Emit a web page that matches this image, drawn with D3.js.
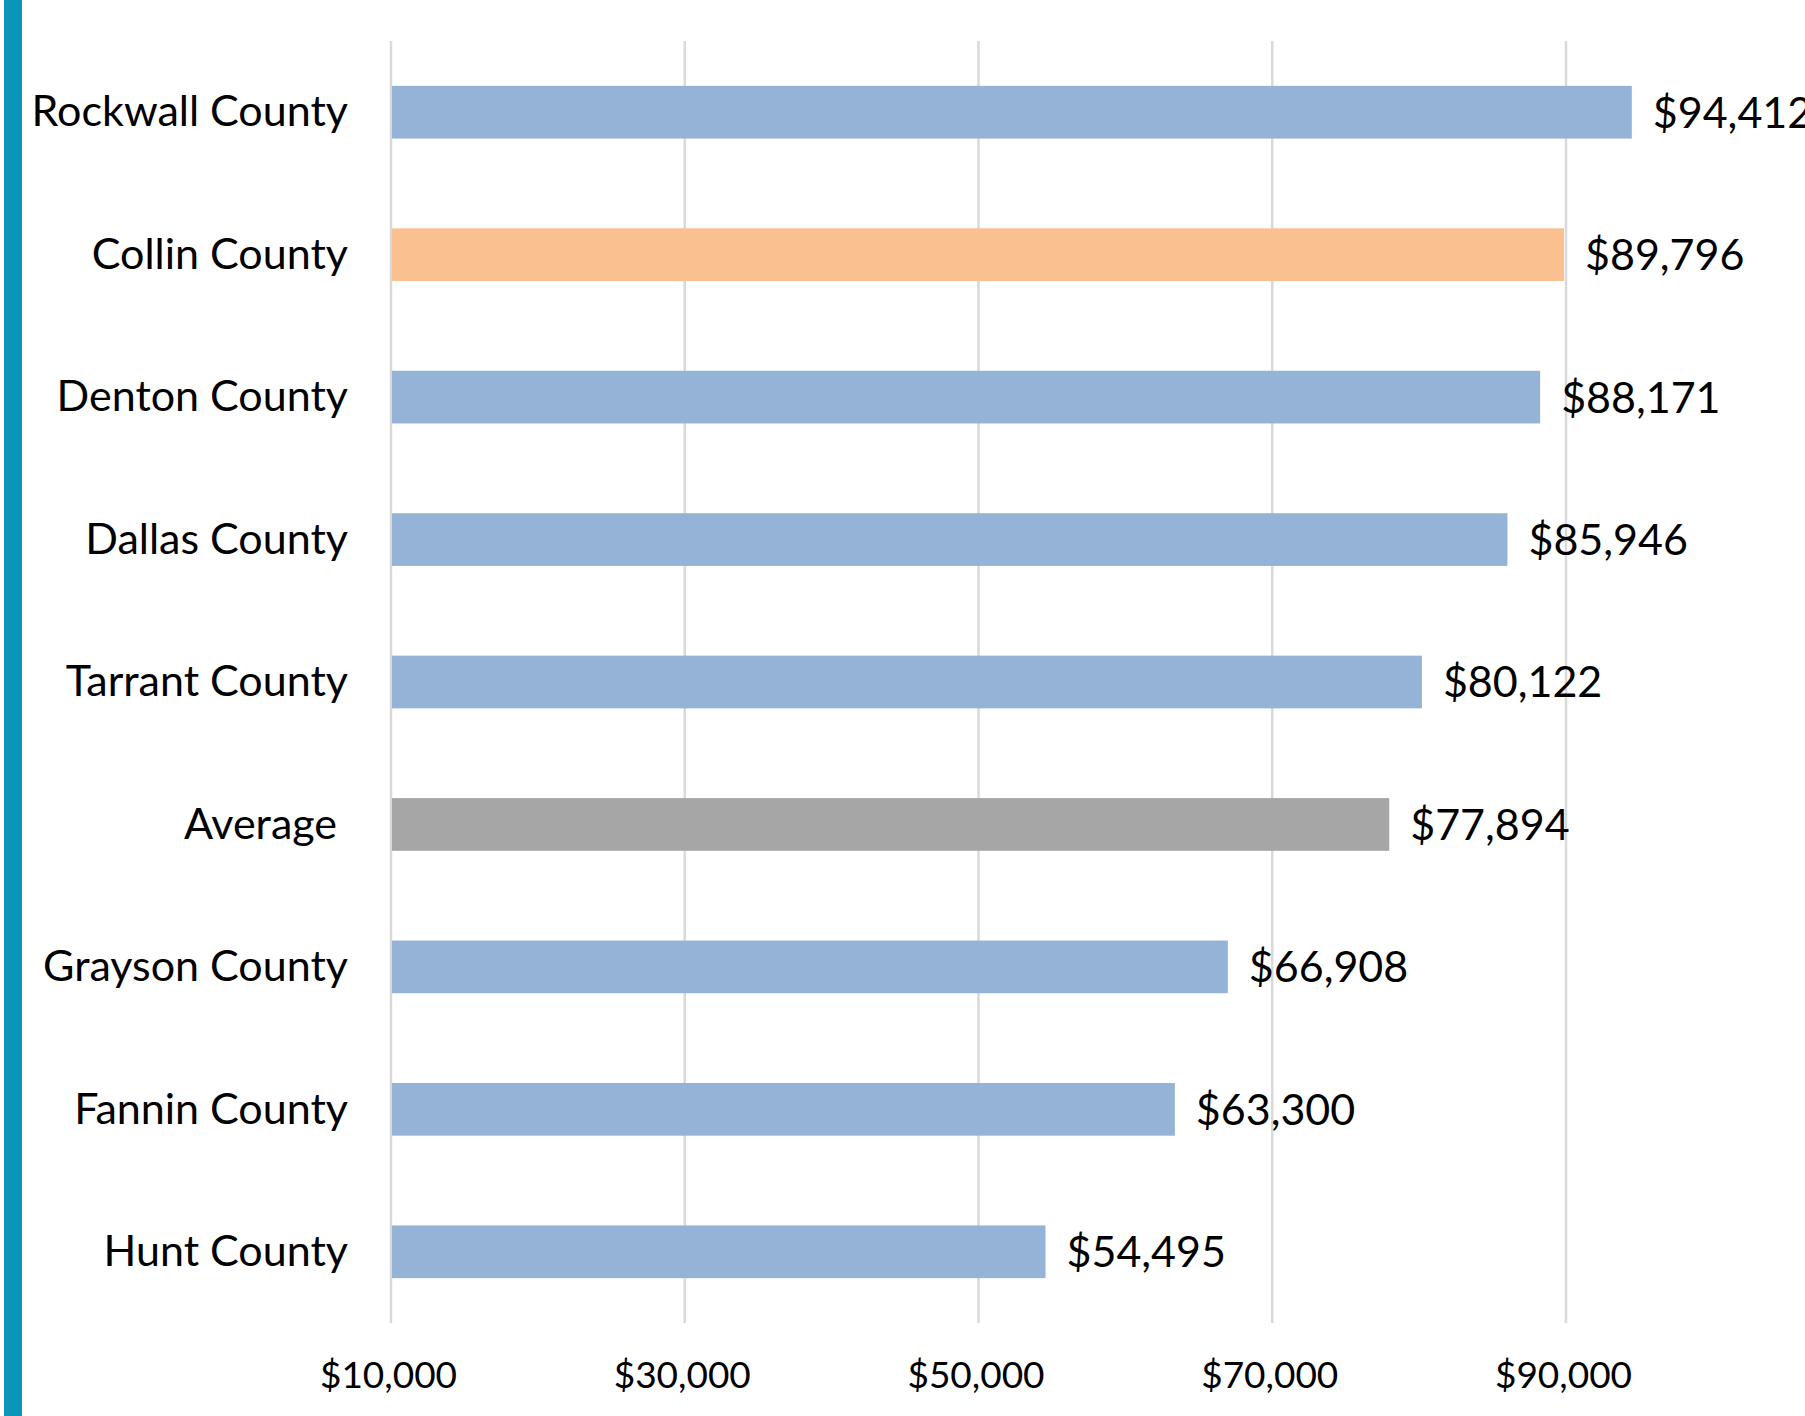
<!DOCTYPE html>
<html>
<head>
<meta charset="utf-8">
<script src="https://cdn.jsdelivr.net/npm/d3@7/dist/d3.min.js"></script>
<style>
  html, body { margin: 0; padding: 0; background: #fff; }
  svg { display: block; }
  text { font-family: Lato, "Open Sans", sans-serif; fill: #000; }
</style>
</head>
<body>
<svg id="chart" width="1805" height="1416"></svg>
<script>
// Median household income by county
const categories = ["Rockwall County", "Collin County", "Denton County", "Dallas County",
  "Tarrant County", "Average ", "Grayson County", "Fannin County", "Hunt County"];
const incomes = [94412, 89796, 88171, 85946, 80122, 77894, 66908, 63300, 54495];
const tickValues = [10000, 30000, 50000, 70000, 90000];
const barKinds = ["county", "highlight", "county", "county", "county", "average", "county", "county", "county"];

const kindColor = { county: "#95B3D7", highlight: "#FAC090", average: "#A6A6A6" };

const W = 1805, H = 1416;
const plot = { left: 392, right: 1567, top: 41, bottom: 1323 };

const svg = d3.select("#chart");

// accent stripe along the left edge
svg.append("rect").attr("x", 4).attr("y", 0).attr("width", 18).attr("height", H)
  .attr("fill", "#0A95B9");

const x = d3.scaleLinear().domain([10000, 90000]).range([plot.left, plot.right]);
const y = d3.scaleBand().domain(categories).range([plot.top, plot.bottom])
  .paddingInner(0.63).paddingOuter(0.315);

const money = d3.format("$,");

// vertical gridlines
svg.append("g").selectAll("line").data(tickValues).join("line")
  .attr("x1", d => x(d) - 1).attr("x2", d => x(d) - 1)
  .attr("y1", plot.top).attr("y2", plot.bottom)
  .attr("stroke", "#D9D9D9").attr("stroke-width", 2.5);

// bottom axis labels
const xAxis = d3.axisBottom(x).tickValues(tickValues).tickFormat(money).tickSize(0).tickPadding(0);
const gx = svg.append("g").attr("transform", `translate(-4,${1388})`).call(xAxis);
gx.select(".domain").remove();
gx.selectAll("text").attr("dy", 0).attr("y", 0)
  .style("font-family", "Lato, sans-serif").style("font-size", "37px").attr("fill", "#111");

// bars
svg.append("g").selectAll("rect").data(categories).join("rect")
  .attr("x", x(10000))
  .attr("y", d => y(d))
  .attr("width", (d, i) => x(incomes[i]) - x(10000))
  .attr("height", y.bandwidth())
  .attr("fill", (d, i) => kindColor[barKinds[i]]);

// category labels
svg.append("g").selectAll("text").data(categories).join("text")
  .attr("x", 348)
  .attr("y", d => y(d) + y.bandwidth() / 2)
  .attr("dy", "0.33em")
  .attr("text-anchor", "end")
  .style("font-size", "43px")
  .style("white-space", "pre")
  .text(d => d);

// value labels
svg.append("g").selectAll("text").data(categories).join("text")
  .attr("x", (d, i) => x(incomes[i]) + 21)
  .attr("y", d => y(d) + y.bandwidth() / 2)
  .attr("dy", "0.36em")
  .style("font-size", "43px")
  .text((d, i) => money(incomes[i]));
</script>
</body>
</html>
